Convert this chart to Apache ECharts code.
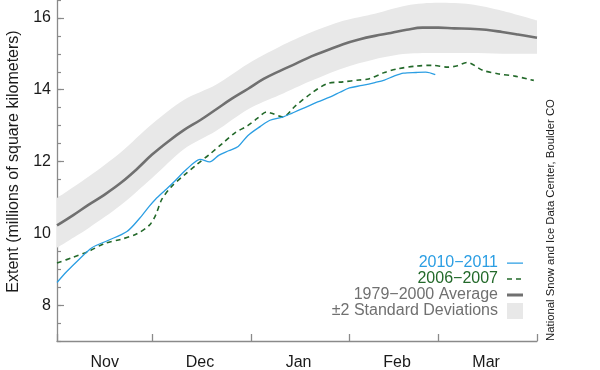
<!DOCTYPE html>
<html>
<head>
<meta charset="utf-8">
<script src="https://cdn.jsdelivr.net/npm/echarts@6/dist/echarts.min.js"></script>
<style>html,body{margin:0;padding:0;background:#fff}#c{width:600px;height:370px}</style>
</head>
<body>
<div id="c"></div>
<script>
// ---- axis structure ----
var monthNames = ['Nov', 'Dec', 'Jan', 'Feb', 'Mar', 'Apr'];
var monthLengths = [30, 31, 31, 28, 31, 1];
var yTickLabels = [8, 10, 12, 14, 16];

// ---- data (day index counted from Nov 1) ----
var avgDays = [0,5,10,15,20,25,30,35,40,45,50,55,60,65,70,75,80,85,90,95,100,105,110,115,120,125,130,135,140,145,151];
var avgVals = [10.22,10.5,10.8,11.08,11.4,11.78,12.2,12.56,12.88,13.15,13.45,13.75,14.02,14.3,14.52,14.72,14.93,15.1,15.27,15.4,15.5,15.58,15.67,15.73,15.73,15.71,15.7,15.67,15.61,15.54,15.45];

var bandDays  = [0,10,20,30,40,50,60,70,80,90,100,110,120,130,140,151];
var bandUpper = [10.98,11.58,12.25,13.05,13.72,14.14,14.72,15.2,15.6,15.92,16.12,16.35,16.42,16.38,16.2,15.93];
var bandLower = [9.6,10.15,10.78,11.55,12.35,12.85,13.45,13.85,14.25,14.6,14.85,15.0,15.02,15.02,15.0,15.0];

var y1011Days = [0,3,7,11,16,22,26,29,31,34,37,40,43,45,48,51,54,57,60,64,67,71,74,78,82,86,89,92,96,100,103,106,109,113,116,119];
var y1011Vals = [8.63,8.93,9.28,9.6,9.8,10.05,10.42,10.75,10.95,11.2,11.45,11.72,11.96,12.06,11.99,12.18,12.3,12.42,12.72,12.98,13.15,13.24,13.35,13.5,13.66,13.8,13.93,14.05,14.12,14.2,14.27,14.38,14.46,14.48,14.49,14.42];

var y0607Days = [0,5,10,15,20,25,29,31,33,36,40,44,48,52,56,60,63,66,68,71,75,80,85,90,95,98,103,107,113,118,123,126,129,134,139,144,148,150];
var y0607Vals = [9.17,9.33,9.5,9.72,9.83,9.98,10.22,10.5,10.95,11.3,11.62,11.92,12.2,12.5,12.8,13.0,13.2,13.38,13.33,13.24,13.55,13.9,14.17,14.22,14.27,14.3,14.48,14.58,14.66,14.68,14.63,14.67,14.76,14.54,14.44,14.38,14.3,14.26];

// ---- build axis categories ----
var categories = [], monthStart = [], labelIdx = [];
monthNames.forEach(function (m, k) {
  monthStart.push(categories.length);
  if (k < monthNames.length - 1) labelIdx.push(categories.length + 15);
  for (var d = 1; d <= monthLengths[k]; d++) categories.push(m + ' ' + d);
});
function pairs(days, vals) { return days.map(function (d, i) { return [d, vals[i]]; }); }
var bandDiff = bandUpper.map(function (u, i) { return +(u - bandLower[i]).toFixed(3); });

var FONT = 'Liberation Sans, Arial, Helvetica, sans-serif';
var C_BLUE = '#2b9ee3', C_GREEN = '#23692a', C_GRAY = '#707070', C_BAND = '#e8e8e8';
// legend icons (16x16 box; tiny corner specks keep the drawing unscaled)
var BOX = 'M0,0 L0.01,0 L0.01,0.01 Z M15.99,15.99 L16,15.99 L16,16 Z ';
var ICON_SOLID = 'path://' + BOX + 'M0,7.4 L16,7.4 L16,8.7 L0,8.7 Z';
var ICON_DASH = 'path://' + BOX + 'M0,7.2 L5,7.2 L5,8.8 L0,8.8 Z M9,7.2 L14,7.2 L14,8.8 L9,8.8 Z';
var ICON_THICK = 'path://' + BOX + 'M0,6.6 L16,6.6 L16,9.4 L0,9.4 Z';

var chart = echarts.init(document.getElementById('c'), null, {renderer: 'canvas'});
chart.setOption({
  animation: false,
  textStyle: {fontFamily: FONT},
  grid: {left: 57, right: 63, top: 0, bottom: 29, containLabel: false, outerBoundsMode: 'none'},
  xAxis: {
    type: 'category', data: categories, boundaryGap: false,
    axisLine: {lineStyle: {color: '#8a8a8a', width: 1.3}},
    axisTick: {inside: true, length: 7, lineStyle: {color: '#8a8a8a', width: 1.3},
      interval: function (i) { return monthStart.indexOf(i) >= 0; }},
    axisLabel: {interval: function (i) { return labelIdx.indexOf(i) >= 0; },
      formatter: function (v) { return v.split(' ')[0]; },
      color: '#1a1a1a', fontSize: 16, margin: 14, fontFamily: FONT},
    splitLine: {show: false}
  },
  yAxis: [{
    type: 'value', min: 7, max: 16.5, interval: 0.5,
    name: 'Extent (millions of square kilometers)', nameLocation: 'middle', nameGap: 35,
    nameTextStyle: {fontSize: 16, color: '#1a1a1a', fontFamily: FONT, padding: [0, 0, 0, 18]},
    axisLine: {show: true, lineStyle: {color: '#8a8a8a', width: 1.3}},
    axisTick: {show: true, inside: true, length: 4, lineStyle: {color: '#8a8a8a', width: 1.2}},
    axisLabel: {color: '#1a1a1a', fontSize: 16, margin: 6, fontFamily: FONT,
      formatter: function (v) { return yTickLabels.indexOf(v) >= 0 ? String(v) : ''; }},
    splitLine: {show: false}
  }, {
    type: 'value', min: 7, max: 16.5, position: 'left',
    axisLine: {show: false},
    axisTick: {show: true, inside: true, length: 7, customValues: yTickLabels, lineStyle: {color: '#8a8a8a', width: 1.2}},
    axisLabel: {show: false},
    splitLine: {show: false}
  }],
  legend: {
    orient: 'vertical', right: 72, top: 250, align: 'right', padding: 5,
    itemWidth: 16, itemHeight: 16, itemGap: 0, selectedMode: false,
    textStyle: {fontSize: 16, fontFamily: FONT, padding: [0, 4, 0, 0]},
    data: [
      {name: '2010\u22122011', icon: ICON_SOLID, textStyle: {color: C_BLUE}},
      {name: '2006\u22122007', icon: ICON_DASH, textStyle: {color: C_GREEN}},
      {name: '1979\u22122000 Average', icon: ICON_THICK, textStyle: {color: C_GRAY}},
      {name: '\u00b12 Standard Deviations', icon: 'rect', textStyle: {color: C_GRAY}}
    ]
  },
  series: [
    {name: 'lower', type: 'line', stack: 'sd', data: pairs(bandDays, bandLower), smooth: 0.3,
      symbol: 'none', lineStyle: {opacity: 0}, silent: true, z: 1},
    {name: '\u00b12 Standard Deviations', type: 'line', stack: 'sd', data: pairs(bandDays, bandDiff), smooth: 0.3,
      symbol: 'none', lineStyle: {opacity: 0, width: 0}, itemStyle: {color: C_BAND},
      areaStyle: {color: C_BAND, opacity: 1}, silent: true, z: 1},
    {name: '1979\u22122000 Average', type: 'line', data: pairs(avgDays, avgVals), smooth: 0.4,
      symbol: 'none', itemStyle: {color: C_GRAY}, lineStyle: {color: C_GRAY, width: 2.6}, z: 3},
    {name: '2006\u22122007', type: 'line', data: pairs(y0607Days, y0607Vals), smooth: 0.3,
      symbol: 'none', itemStyle: {color: C_GREEN}, lineStyle: {color: C_GREEN, width: 1.6, type: [5, 4]}, z: 4},
    {name: '2010\u22122011', type: 'line', data: pairs(y1011Days, y1011Vals), smooth: 0.3,
      symbol: 'none', itemStyle: {color: C_BLUE}, lineStyle: {color: C_BLUE, width: 1.3}, z: 5}
  ],
  graphic: [{
    type: 'text', x: 551, y: 220, rotation: Math.PI / 2,
    style: {text: 'National Snow and Ice Data Center, Boulder CO', fill: '#1a1a1a',
      font: '11.3px ' + FONT, align: 'center', verticalAlign: 'middle'}
  }]
});
</script>
</body>
</html>
